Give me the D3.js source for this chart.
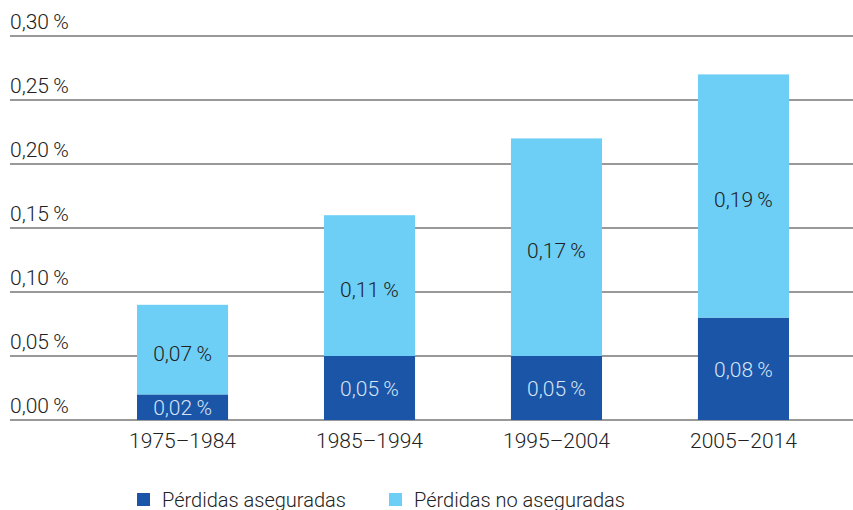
<!DOCTYPE html>
<html lang="es">
<head>
<meta charset="UTF-8">
<script src="https://d3js.org/d3.v7.min.js"></script>
<style>
    body { margin: 0; background: #fff; }
    text { font-family: Roboto, "Liberation Sans", sans-serif; font-weight: 300; }
</style>
</head>
<body>
<div id="chart"></div>
<script>
    // data
    var periods = ["1975–1984", "1985–1994", "1995–2004", "2005–2014"];
    var insured = [0.02, 0.05, 0.05, 0.08];
    var uninsured = [0.07, 0.11, 0.17, 0.19];
    var yTicks = [0, 0.05, 0.10, 0.15, 0.20, 0.25, 0.30];
    var seriesNames = ["Pérdidas aseguradas", "Pérdidas no aseguradas"];
    var colors = ["#1a55a8", "#6dcff6"];

    var width = 853, height = 510;
    var svg = d3.select("#chart").append("svg")
        .attr("width", width)
        .attr("height", height);

    var yScale = d3.scaleLinear().domain([0, 0.30]).range([420, 36]);
    var xScale = d3.scaleBand().domain(periods).range([137, 789]).paddingInner(0.513).paddingOuter(0);

    var fmt = function(v) { return d3.format(".2f")(v).replace(".", ",") + "\u2009%"; };

    // gridlines and y labels
    var grid = svg.append("g");
    grid.selectAll("line").data(yTicks).enter().append("line")
        .attr("x1", 10).attr("x2", width)
        .attr("y1", function(d) { return yScale(d); })
        .attr("y2", function(d) { return yScale(d); })
        .attr("stroke", "#777")
        .attr("stroke-width", 1.5);
    grid.selectAll("text").data(yTicks).enter().append("text")
        .attr("x", 10)
        .attr("y", function(d) { return yScale(d) - 7; })
        .attr("font-size", "21px")
        .attr("fill", "#222")
        .text(fmt);

    var rows = periods.map(function(p, i) {
        return { period: p, ins: insured[i], unins: uninsured[i] };
    });

    var bars = svg.append("g").selectAll("g").data(rows).enter().append("g");

    bars.append("rect")
        .attr("x", function(d) { return xScale(d.period); })
        .attr("width", xScale.bandwidth())
        .attr("y", function(d) { return yScale(d.ins); })
        .attr("height", function(d) { return yScale(0) - yScale(d.ins); })
        .attr("fill", colors[0]);

    bars.append("rect")
        .attr("x", function(d) { return xScale(d.period); })
        .attr("width", xScale.bandwidth())
        .attr("y", function(d) { return yScale(d.ins + d.unins); })
        .attr("height", function(d) { return yScale(d.ins) - yScale(d.ins + d.unins); })
        .attr("fill", colors[1]);

    bars.append("text")
        .attr("x", function(d) { return xScale(d.period) + xScale.bandwidth() / 2; })
        .attr("y", function(d) { return (yScale(0) + yScale(d.ins)) / 2 + 8; })
        .attr("text-anchor", "middle")
        .attr("font-size", "21px")
        .attr("fill", "#d6e4f5")
        .text(function(d) { return fmt(d.ins); });

    bars.append("text")
        .attr("x", function(d) { return xScale(d.period) + xScale.bandwidth() / 2; })
        .attr("y", function(d) { return (yScale(d.ins) + yScale(d.ins + d.unins)) / 2 + 11; })
        .attr("text-anchor", "middle")
        .attr("font-size", "21px")
        .attr("fill", "#222")
        .text(function(d) { return fmt(d.unins); });

    // x axis labels
    svg.append("g").selectAll("text").data(periods).enter().append("text")
        .attr("x", function(d) { return xScale(d) + xScale.bandwidth() / 2; })
        .attr("y", 448)
        .attr("text-anchor", "middle")
        .attr("font-size", "21px")
        .attr("fill", "#222")
        .text(function(d) { return d; });

    // legend
    var legendX = [137, 389];
    var legend = svg.append("g").selectAll("g").data(seriesNames).enter().append("g")
        .attr("transform", function(d, i) { return "translate(" + legendX[i] + ",493)"; });
    legend.append("rect")
        .attr("width", 13).attr("height", 13)
        .attr("fill", function(d, i) { return colors[i]; });
    legend.append("text")
        .attr("x", 25).attr("y", 14)
        .attr("font-size", "20px")
        .attr("fill", "#222")
        .text(function(d) { return d; });
</script>
</body>
</html>
